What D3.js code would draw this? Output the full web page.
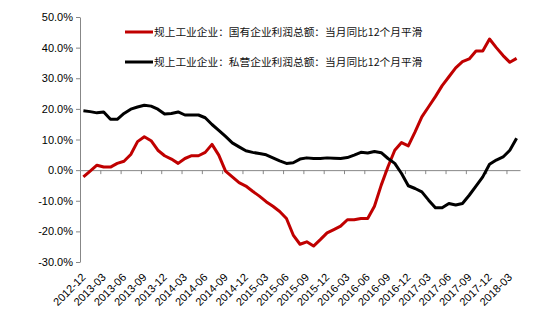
<!DOCTYPE html>
<html>
<head>
<meta charset="utf-8">
<script src="https://cdn.jsdelivr.net/npm/d3@7"></script>
<style>
  body { margin: 0; background: #fff; }
  svg { display: block; }
  .axis text { font-family: "Liberation Sans", Arial, sans-serif; font-size: 11px; fill: #000; }
  .axis path, .axis line { stroke: #878787; }
  .legend text { font-family: "Noto Sans CJK SC", sans-serif; font-size: 10.7px; fill: #111; }
</style>
</head>
<body>
<svg></svg>
<script>
var screen = {width: 542, height: 333}
var margins = {top: 17, right: 22, bottom: 71, left: 80}

var months = ["2012-12","2013-01","2013-02","2013-03","2013-04","2013-05","2013-06","2013-07","2013-08","2013-09","2013-10","2013-11",
  "2013-12","2014-01","2014-02","2014-03","2014-04","2014-05","2014-06","2014-07","2014-08","2014-09","2014-10","2014-11",
  "2014-12","2015-01","2015-02","2015-03","2015-04","2015-05","2015-06","2015-07","2015-08","2015-09","2015-10","2015-11",
  "2015-12","2016-01","2016-02","2016-03","2016-04","2016-05","2016-06","2016-07","2016-08","2016-09","2016-10","2016-11",
  "2016-12","2017-01","2017-02","2017-03","2017-04","2017-05","2017-06","2017-07","2017-08","2017-09","2017-10","2017-11",
  "2017-12","2018-01","2018-02","2018-03","2018-04"]

// 国有企业利润总额 当月同比 12个月平滑 (%)
var stateOwned = [-2.2,-0.3,1.6,1.0,1.0,2.2,2.9,5.1,9.3,10.9,9.6,6.5,
  4.7,3.6,2.2,3.8,4.7,4.7,5.8,8.4,4.9,-0.3,-2.2,-4.1,
  -5.2,-6.9,-8.5,-10.3,-11.8,-13.5,-15.8,-21.2,-24.2,-23.4,-24.8,-22.7,
  -20.5,-19.4,-18.3,-16.2,-16.2,-15.8,-15.8,-11.8,-4.9,1.1,6.5,9.0,
  7.9,12.5,17.4,20.7,24.0,27.6,30.5,33.4,35.4,36.3,38.9,38.9,
  42.8,40.0,37.4,35.2,36.5]

// 私营企业利润总额 当月同比 12个月平滑 (%)
var privateOwned = [19.4,19.1,18.7,19.0,16.6,16.6,18.5,19.9,20.6,21.2,20.9,19.9,
  18.3,18.5,19.0,18.0,18.0,18.0,17.1,14.9,13.0,11.0,8.9,7.6,
  6.3,5.8,5.4,5.0,4.0,3.0,2.2,2.4,3.6,4.0,3.8,3.8,
  4.0,3.9,3.8,4.1,4.9,5.8,5.6,6.1,5.7,3.8,2.2,-1.1,
  -5.1,-6.0,-7.1,-9.8,-12.3,-12.3,-10.9,-11.4,-10.9,-8.2,-5.2,-2.2,
  1.9,3.3,4.3,6.5,10.4]

var yTicks = [-30,-20,-10,0,10,20,30,40,50]

var seriesNames = ["规上工业企业：国有企业利润总额：当月同比12个月平滑",
                   "规上工业企业：私营企业利润总额：当月同比12个月平滑"]
var seriesColors = ["#c00000", "#000000"]

var svg = d3.select("svg")
    .attr("width", screen.width)
    .attr("height", screen.height)

var width = screen.width - margins.left - margins.right
var height = screen.height - margins.top - margins.bottom

// category index -> x, each month gets a slot, ticks sit between slots
var xScale = d3.scaleLinear()
    .domain([-0.5, months.length - 0.5])
    .range([margins.left, margins.left + width])

var yScale = d3.scaleLinear()
    .domain([-30, 50])
    .range([margins.top + height, margins.top])

// y axis
svg.append("g")
    .classed("axis", true)
    .attr("transform", "translate(" + margins.left + ",0)")
    .call(d3.axisLeft(yScale)
        .tickValues(yTicks)
        .tickSize(4)
        .tickSizeOuter(0)
        .tickPadding(3)
        .tickFormat(function(d){ return d.toFixed(1) + "%" }))

// x axis line at zero, ticks every quarter
var labelIdx = d3.range(0, months.length, 3)

svg.append("g")
    .classed("axis", true)
    .attr("transform", "translate(0," + yScale(0) + ")")
    .call(d3.axisBottom(xScale)
        .tickValues(labelIdx.map(function(i){ return i - 0.5 }))
        .tickSize(4)
        .tickSizeOuter(0)
        .tickFormat(""))

// month labels along the bottom, slanted
svg.append("g")
    .classed("axis", true)
    .selectAll("text")
    .data(labelIdx)
    .enter()
    .append("text")
    .attr("text-anchor", "end")
    .attr("transform", function(i){
        return "translate(" + (xScale(i) + 3) + "," + (margins.top + height + 16) + ") rotate(-45)"
    })
    .text(function(i){ return months[i] })

// lines
var line = d3.line()
    .x(function(d, i){ return xScale(i) })
    .y(function(d){ return yScale(d) })

var series = [stateOwned, privateOwned]

svg.append("g")
    .selectAll("path")
    .data(series)
    .enter()
    .append("path")
    .attr("d", line)
    .attr("fill", "none")
    .attr("stroke", function(d, i){ return seriesColors[i] })
    .attr("stroke-width", 3)
    .attr("stroke-linejoin", "round")

// legend
var legend = svg.append("g").classed("legend", true)
var items = legend.selectAll("g")
    .data(seriesNames)
    .enter()
    .append("g")
    .attr("transform", function(d, i){ return "translate(125," + (32 + i * 30) + ")" })

items.append("line")
    .attr("x1", 0).attr("x2", 28)
    .attr("stroke", function(d, i){ return seriesColors[i] })
    .attr("stroke-width", 3)

items.append("text")
    .attr("x", 29)
    .attr("dy", "0.35em")
    .text(function(d){ return d })
</script>
</body>
</html>
